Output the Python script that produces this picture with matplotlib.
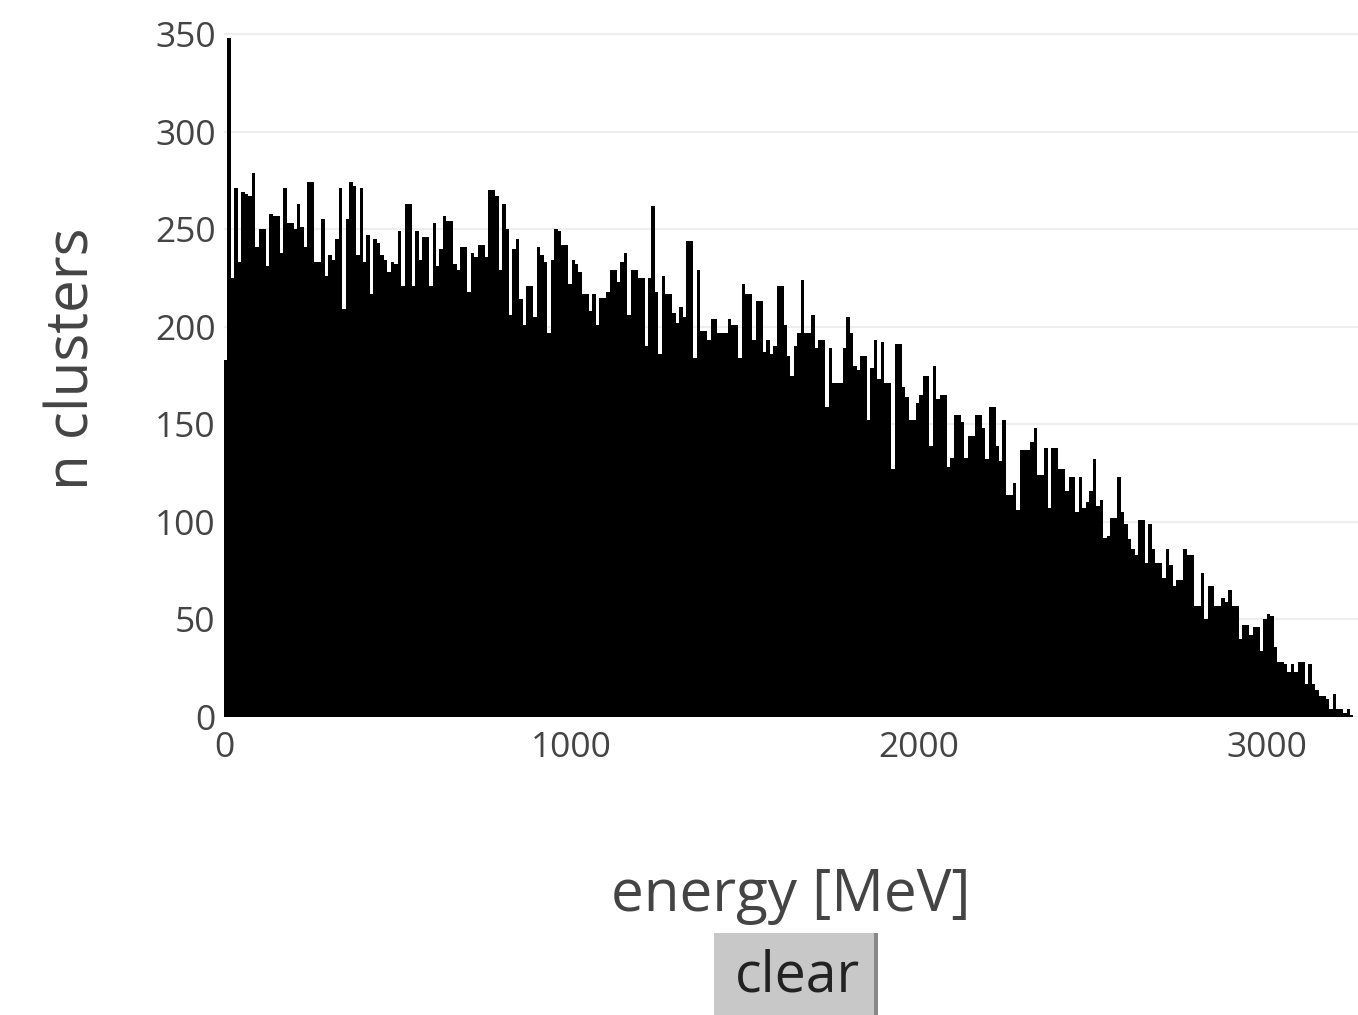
import numpy as np
import matplotlib
matplotlib.use("Agg")
import matplotlib.pyplot as plt
from matplotlib.patches import Rectangle

# histogram of cluster energies, 10 MeV bins starting at 0
bin_width = 10
counts = [
    183, 348, 225, 271, 233, 269, 268, 267, 279, 241, 250, 250, 231, 258, 257, 257, 238, 271, 253, 253,
    250, 263, 251, 241, 274, 274, 233, 233, 255, 226, 237, 234, 245, 271, 209, 255, 274, 272, 237, 271,
    233, 247, 217, 245, 243, 237, 234, 228, 233, 232, 249, 221, 263, 263, 221, 249, 234, 246, 246, 221,
    253, 231, 240, 257, 254, 254, 232, 229, 241, 241, 218, 238, 236, 242, 242, 236, 270, 270, 267, 229,
    263, 250, 206, 240, 245, 214, 201, 221, 221, 205, 241, 237, 233, 197, 234, 250, 249, 242, 242, 222,
    234, 232, 228, 217, 217, 208, 217, 201, 215, 215, 218, 229, 229, 223, 233, 238, 206, 229, 229, 225,
    225, 190, 225, 262, 218, 186, 226, 217, 217, 207, 202, 210, 205, 244, 244, 184, 229, 198, 198, 193,
    204, 204, 197, 197, 197, 204, 201, 201, 184, 222, 217, 217, 193, 213, 213, 187, 193, 186, 190, 221,
    221, 201, 185, 175, 190, 197, 224, 197, 197, 206, 189, 193, 193, 159, 189, 171, 171, 171, 189, 205,
    197, 180, 178, 185, 185, 152, 179, 193, 173, 192, 171, 171, 127, 191, 191, 169, 164, 152, 152, 161,
    165, 175, 175, 139, 180, 163, 165, 165, 128, 133, 155, 155, 151, 133, 144, 144, 155, 155, 148, 132,
    159, 159, 139, 131, 152, 114, 114, 120, 106, 137, 137, 137, 141, 148, 124, 124, 138, 107, 138, 138,
    127, 127, 116, 123, 123, 105, 123, 107, 110, 116, 132, 108, 111, 92, 93, 102, 102, 123, 105, 99,
    91, 86, 83, 101, 101, 79, 99, 86, 79, 79, 71, 86, 78, 67, 70, 70, 86, 83, 83, 57,
    57, 74, 50, 67, 67, 57, 57, 61, 59, 65, 57, 57, 40, 47, 47, 42, 46, 46, 34, 50,
    53, 52, 36, 28, 28, 27, 23, 27, 23, 28, 28, 17, 27, 17, 14, 11, 11, 9, 4, 12,
    4, 4, 2, 4, 1,
]
edges = np.arange(len(counts)) * bin_width

y_ticks = [0, 50, 100, 150, 200, 250, 300, 350]
x_ticks = [0, 1000, 2000, 3000]

plt.rcParams["font.family"] = ["Open Sans", "DejaVu Sans"]

fig = plt.figure(figsize=(13.58, 10.15), dpi=100)
ax = fig.add_axes([224 / 1358, 298 / 1015, 1134 / 1358, 717 / 1015])

ax.bar(edges, counts, width=bin_width, align="edge", color="black", linewidth=0, zorder=2)

ax.set_xlim(0, 3263)
ax.set_ylim(0, 367.5)
ax.set_yticks(y_ticks)
ax.set_xticks(x_ticks)
ax.grid(axis="y", color="#eeeeee", linewidth=1.5, zorder=0)
ax.set_axisbelow(True)
for s in ax.spines.values():
    s.set_visible(False)
ax.tick_params(length=0, labelsize=25.5, labelcolor="#444444")
ax.tick_params(axis="y", pad=6)
ax.tick_params(axis="x", pad=10)

ax.set_xlabel("energy [MeV]", fontsize=42, color="#444444", labelpad=73)
ax.set_ylabel("n clusters", fontsize=42, color="#444444", labelpad=38)

# "clear" button under the chart
fig.patches.append(Rectangle((714 / 1358, 0), 164 / 1358, 82 / 1015,
                             transform=fig.transFigure, facecolor="#c8c8c8",
                             edgecolor="none"))
fig.patches.append(Rectangle((874 / 1358, 0), 4 / 1358, 82 / 1015,
                             transform=fig.transFigure, facecolor="#888888",
                             edgecolor="none"))
fig.text(797 / 1358, 38 / 1015, "clear", fontsize=40, color="#222222",
         ha="center", va="center")

fig.savefig("out.png", dpi=100)
